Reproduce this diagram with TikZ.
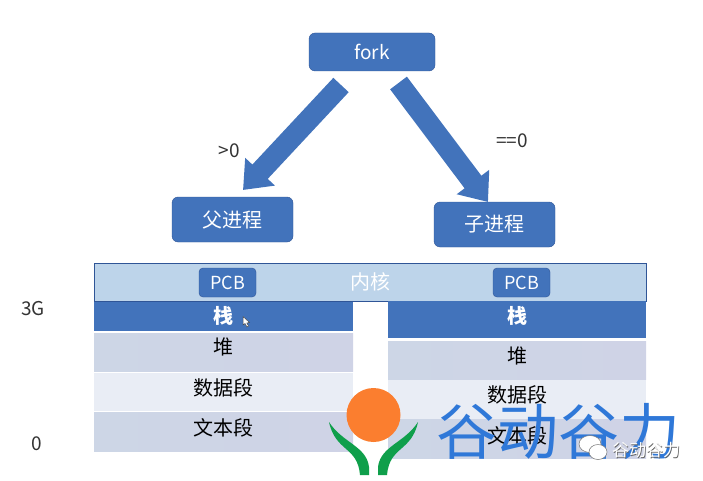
\documentclass[tikz,border=0pt]{standalone}
\usepackage{fontspec}
\setmainfont{Noto Sans CJK SC}
\usetikzlibrary{arrows.meta}
\definecolor{officeblue}{HTML}{4273BB}
\definecolor{officeedge}{HTML}{2F5597}
\definecolor{kernelblue}{HTML}{BDD4EA}
\definecolor{seglight}{HTML}{E9EDF5}
\definecolor{segdark}{HTML}{CDD6E6}
\definecolor{segdarkr}{HTML}{CFD3E6}
\definecolor{logoorange}{HTML}{FB7E2F}
\definecolor{logogreen}{HTML}{0F9F4B}
\definecolor{markblue}{HTML}{2F78D8}
\tikzset{
  procbox/.style={draw=officeedge, fill=officeblue, rounded corners=6pt, text=white, inner sep=0pt, font=\fontsize{20}{20}\selectfont},
  pcbbox/.style={procbox, rounded corners=4pt, minimum width=57pt, minimum height=29pt, font=\fontsize{18}{18}\selectfont},
  seg/.style={minimum width=#1, inner sep=0pt, font=\fontsize{20}{20}\selectfont},
  segtop/.style={seg=#1, fill=officeblue, text=white, font=\fontsize{20}{20}\selectfont\bfseries},
  segdk/.style={seg=#1, left color=segdark, right color=segdarkr},
  seglt/.style={seg=#1, fill=seglight},
  bigarrow/.style={draw=officeblue, line width=21pt, -{Triangle[length=25pt, width=39pt]}},
  plain/.style={inner sep=0pt, text=black!80, font=\fontsize{19}{19}\selectfont},
}
\begin{document}
\begin{tikzpicture}[x=1pt, y=-1pt]
  \useasboundingbox (0,0) rectangle (703,481);
  % top of the tree
  \node[procbox, minimum width=126pt, minimum height=38pt, font=\fontsize{19}{19}\selectfont] (fork) at (372,52) {fork};
  \node[procbox, minimum width=121pt, minimum height=45pt] (parent) at (232.5,219.5) {父进程};
  \node[procbox, minimum width=121pt, minimum height=45pt] (child) at (494.5,224.5) {子进程};
  \coordinate (ltail) at (341,85);
  \coordinate (ltip) at (243,190);
  \coordinate (rtail) at (398.5,83);
  \coordinate (rtip) at (488,202);
  \draw[bigarrow] (ltail) -- (ltip);
  \draw[bigarrow] (rtail) -- (rtip);
  \node[plain] (gt) at (229,151) {>0};
  \node[plain] (eq) at (512,141) {==0};
  % kernel
  \node[draw=officeedge, fill=kernelblue, minimum width=552pt, minimum height=38pt, inner sep=0pt] (kernel) at (370,282) {};
  \node[text=white, font=\fontsize{20}{20}\selectfont, inner sep=0pt] (kname) at (370,282) {内核};
  \node[pcbbox] (pcbl) at (227.5,282.5) {PCB};
  \node[pcbbox] (pcbr) at (521.5,282.5) {PCB};
  % left column
  \node[segtop=259pt, minimum height=29pt] (lstack) at (223.5,316) {栈};
  \node[segdk=259pt, minimum height=38pt] (lheap) at (223.5,352) {};
  \node[seglt=259pt, minimum height=38pt] (ldata) at (223.5,392) {};
  \node[segdk=259pt, minimum height=39pt] (ltext) at (223.5,431.5) {};
  \node[inner sep=0pt, font=\fontsize{20}{20}\selectfont] (lheapt) at (223.5,347) {堆};
  \node[inner sep=0pt, font=\fontsize{20}{20}\selectfont] (ldatat) at (223.5,388) {数据段};
  \node[inner sep=0pt, font=\fontsize{20}{20}\selectfont] (ltextt) at (223.5,428) {文本段};
  % right column
  \node[segtop=258pt, minimum height=37pt] (rstack) at (517,319.5) {};
  \node[text=white, inner sep=0pt, font=\fontsize{20}{20}\selectfont\bfseries] (rstackt) at (517,316) {栈};
  \node[segdk=258pt, minimum height=38pt] (rheap) at (517,360) {};
  \node[seglt=258pt, minimum height=39pt] (rdata) at (517,399.5) {};
  \node[segdk=258pt, minimum height=39pt] (rtext) at (517,439) {};
  \node[inner sep=0pt, font=\fontsize{20}{20}\selectfont] (rheapt) at (517,356) {堆};
  \node[inner sep=0pt, font=\fontsize{20}{20}\selectfont] (rdatat) at (517,395) {数据段};
  \node[inner sep=0pt, font=\fontsize{20}{20}\selectfont] (rtextt) at (517,436) {文本段};
  % side labels
  \node[plain] (three) at (33,309) {3G};
  \node[plain] (zero) at (37,444) {0};
  % mouse pointer
  \draw[fill=white, draw=black!70, line width=.5pt] (243,316.5) -- (243,325) -- (245,323.5) -- (247,327) -- (248.5,326) -- (246.8,323) -- (249.5,322.5) -- cycle;
  % logo
  \fill[logoorange] (373.5,415) circle (27);
  \foreach \s in {1,-1} {
    \begin{scope}[shift={(373.5,0)}, xscale=\s]
      \fill[logogreen] (-44.5,422) .. controls (-38,452) and (-16,446) .. (-13.5,475)
        -- (-4.5,475) -- (-4.5,467) .. controls (-7,446) and (-31,443) .. cycle;
    \end{scope}
  }
  % watermark
  \node[text=markblue, inner sep=0pt, font=\fontsize{61}{61}\selectfont] (mark) at (558,431) {谷动谷力};
  \fill[white, draw=black!55, line width=.5pt] (590,444) ellipse (11 and 8.5);
  \fill[white, draw=black!55, line width=.5pt] (598,452) ellipse (9 and 7.5);
  \node[text=black!60, inner sep=0pt, font=\fontsize{17}{17}\selectfont] (smallb) at (646.8,450.8) {谷动谷力};
  \node[text=white, inner sep=0pt, font=\fontsize{17}{17}\selectfont] (small) at (646,450) {谷动谷力};
\end{tikzpicture}
\end{document}
